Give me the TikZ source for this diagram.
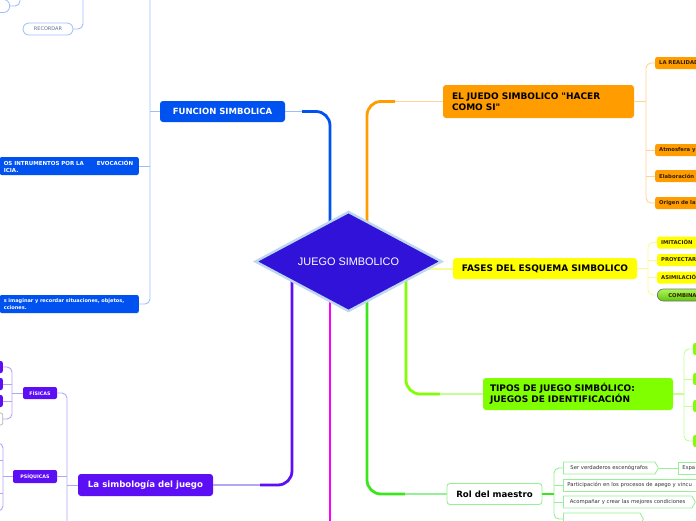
\documentclass[tikz,border=0pt]{standalone}
\usepackage{fontspec}
\setmainfont{DejaVu Sans}[Ligatures=TeXOff]
\newfontfamily\centrefont{Liberation Sans}
\usetikzlibrary{shapes.geometric,shapes.symbols}

\definecolor{centreblue}{RGB}{48,18,216}
\definecolor{centreedge}{RGB}{190,215,240}
\definecolor{funcblue}{RGB}{0,82,240}
\definecolor{funcline}{RGB}{160,188,250}
\definecolor{recgray}{RGB}{95,110,140}
\definecolor{simbpurple}{RGB}{92,14,245}
\definecolor{simbline}{RGB}{180,165,245}
\definecolor{hacerorange}{RGB}{255,156,0}
\definecolor{hacerline}{RGB}{255,210,150}
\definecolor{fasesyellow}{RGB}{255,255,0}
\definecolor{fasesline}{RGB}{250,250,150}
\definecolor{tiposgreen}{RGB}{128,255,0}
\definecolor{tiposline}{RGB}{195,255,150}
\definecolor{rolgreen}{RGB}{60,230,30}
\definecolor{rolline}{RGB}{150,240,150}
\definecolor{magentaline}{RGB}{255,0,255}
\definecolor{combinatop}{RGB}{175,245,90}
\definecolor{combinabottom}{RGB}{95,200,10}
\definecolor{leafink}{RGB}{50,30,0}

\tikzset{
  trunk/.style={line width=2.8pt, draw=#1, rounded corners=14pt},
  bridge/.style={line width=1.4pt, draw=#1},
  twig/.style={line width=0.9pt, draw=#1, rounded corners=5pt},
  topic/.style={fill=#1, rounded corners=3pt, inner sep=0pt,
    font=\bfseries\fontsize{9pt}{11pt}\selectfont},
  leaf/.style={fill=#1, rounded corners=2pt, anchor=west, inner xsep=4pt, inner ysep=0pt,
    minimum height=12pt, align=left, text=leafink,
    font=\bfseries\fontsize{5.3pt}{6.5pt}\selectfont},
  tag/.style={fill=#1, rounded corners=2pt, inner sep=0pt, minimum height=12pt,
    minimum width=34pt, text=white, font=\bfseries\fontsize{4.8pt}{6pt}\selectfont},
  pill/.style={draw=#1, fill=white, rounded corners=6pt, inner sep=0pt,
    minimum width=50pt, minimum height=12pt, line width=0.8pt,
    font=\fontsize{5pt}{6pt}\selectfont},
  rolleaf/.style={draw=rolline, fill=white, line width=0.8pt, anchor=west, inner xsep=4pt,
    inner ysep=0pt, minimum height=12pt, align=left, text=black!80,
    font=\fontsize{5.3pt}{6.5pt}\selectfont},
  rolpoint/.style={signal, signal to=east, signal pointer angle=120, draw=rolline,
    fill=white, line width=0.8pt, anchor=west, inner xsep=3pt, inner ysep=0pt,
    minimum height=12pt, text=black!80, font=\fontsize{5.3pt}{6.5pt}\selectfont},
  centre/.style={diamond, fill=centreblue, draw=centreedge, line width=2.4pt,
    minimum width=187pt, minimum height=100pt, aspect=1.87, inner sep=0pt,
    text=white, font=\centrefont\fontsize{10.9pt}{12pt}\selectfont}
}

\begin{document}
\begin{tikzpicture}[x=1pt,y=-1pt]
  \useasboundingbox (0,0) rectangle (696,520);
  \fill[white] (0,0) rectangle (696,520);
  \clip (0,0) rectangle (696,520);

  % FUNCION SIMBOLICA
  \node[topic=funcblue, text=white, minimum width=125pt, minimum height=21pt,
        font=\bfseries\fontsize{8.5pt}{10pt}\selectfont] (func) at (222.5,111.5) {FUNCION SIMBOLICA};
  \node[leaf=funcblue, anchor=east, text width=131pt, minimum height=18pt, text=white,
        font=\bfseries\fontsize{5.5pt}{7pt}\selectfont] (evoc) at (139,166)
        {OS INTRUMENTOS POR LA\hspace{13pt}EVOCACIÓN\\ICIA.};
  \node[leaf=funcblue, anchor=east, text width=131pt, minimum height=18pt, text=white,
        font=\bfseries\fontsize{5pt}{7pt}\selectfont] (imag) at (139,304)
        {\mbox{s imaginar y recordar situaciones, objetos,}\\cciones.};
  \node[pill=funcline, text=recgray] (recordar) at (48,29) {RECORDAR};
  \node[pill=funcline, minimum width=30pt, minimum height=13pt, anchor=east] (funcleaf) at (10,6) {};

  \coordinate (functop) at (150,-3);
  \coordinate (recordartop) at (83,-3);
  \coordinate (leaftop) at (20,-3);
  \draw[twig=funcline] (functop) |- (imag.east);
  \draw[twig=funcline] (func.west) -- (func.west -| functop);
  \draw[twig=funcline] (evoc.east) -- (evoc.east -| functop);
  \draw[twig=funcline] (recordartop) |- (recordar.east);
  \draw[twig=funcline] (leaftop) |- (funcleaf.east);

  % La simbologia del juego
  \node[topic=simbpurple, text=white, minimum width=135pt, minimum height=22pt,
        font=\bfseries\fontsize{8.6pt}{10pt}\selectfont] (simb) at (145.5,485) {La simbología del juego};
  \node[tag=simbpurple] (fisicas) at (40,393) {FÍSICAS};
  \node[tag=simbpurple, minimum width=44pt, minimum height=13pt] (psiquicas) at (35,476.5) {PSÍQUICAS};
  \node[tag=simbpurple, minimum width=30pt, anchor=east] (fisa) at (3,367) {};
  \node[tag=simbpurple, minimum width=30pt, anchor=east] (fisb) at (3,384) {};
  \node[tag=simbpurple, minimum width=30pt, anchor=east] (fisc) at (3,401) {};
  \node[tag=white, draw=black!30, line width=0.6pt, minimum width=30pt, anchor=east] (fisd) at (3,419) {};

  \coordinate (simbtail) at (67,523);
  \draw[twig=simbline] (fisicas.east) -| (simbtail);
  \draw[twig=simbline] (psiquicas.east) -- (psiquicas.east -| simbtail);
  \draw[twig=simbline] (simb.west) -- (simb.west -| simbtail);
  \coordinate (fisknot) at (12,393);
  \draw[twig=simbline] (fisa.east) -| (fisknot) |- (fisd.east);
  \draw[twig=simbline] (fisb.east) -- (fisb.east -| fisknot);
  \draw[twig=simbline] (fisc.east) -- (fisc.east -| fisknot);
  \draw[twig=simbline] (fisicas.west) -- (fisicas.west -| fisknot);
  \coordinate (psia) at (-6,443);
  \coordinate (psib) at (-6,460);
  \coordinate (psic) at (-6,493);
  \coordinate (psid) at (-6,511);
  \coordinate (psiknot) at (3,476.5);
  \draw[twig=simbline] (psia) -| (psiknot) |- (psid);
  \draw[twig=simbline] (psib) -- (psib -| psiknot);
  \draw[twig=simbline] (psic) -- (psic -| psiknot);
  \draw[twig=simbline] (psiquicas.west) -- (psiquicas.west -| psiknot);

  % EL JUEDO SIMBOLICO "HACER COMO SI"
  \node[topic=hacerorange, minimum width=191pt, minimum height=33pt, text width=173pt,
        inner xsep=9pt, align=left] (hacer) at (538.5,101.5)
        {EL JUEDO SIMBOLICO "HACER\\COMO SI"};
  \node[leaf=hacerorange, text width=70pt] (realidad) at (655,63) {LA REALIDAD};
  \node[leaf=hacerorange, text width=70pt] (atmosfera) at (655,150) {Atmosfera y};
  \node[leaf=hacerorange, text width=70pt] (elaboracion) at (655,176) {Elaboración};
  \node[leaf=hacerorange, text width=70pt] (origen) at (655,203) {Origen de la};

  \coordinate (hacerknot) at (646,101.5);
  \draw[twig=hacerline] (realidad.west) -| (hacerknot) |- (origen.west);
  \draw[twig=hacerline] (atmosfera.west) -- (atmosfera.west -| hacerknot);
  \draw[twig=hacerline] (elaboracion.west) -- (elaboracion.west -| hacerknot);
  \draw[bridge=hacerline] (hacer.east) -- (hacerknot);

  % FASES DEL ESQUEMA SIMBOLICO
  \node[topic=fasesyellow, minimum width=184pt, minimum height=21pt] (fases) at (545,268.5) {FASES DEL ESQUEMA SIMBOLICO};
  \node[leaf=fasesyellow, text width=60pt] (imitacion) at (657,242.5) {IMITACIÓN};
  \node[leaf=fasesyellow, text width=60pt] (proyectar) at (657,260) {PROYECTAR};
  \node[leaf=fasesyellow, text width=60pt] (asimilacion) at (657,277.5) {ASIMILACIÓN};
  \node[leaf=white, draw=black!55, line width=0.7pt, rounded corners=6pt, inner xsep=11pt,
        top color=combinatop, bottom color=combinabottom, text width=60pt] (combina) at (657,295) {COMBINACIÓN};

  \coordinate (fasesknot) at (648,268.5);
  \draw[twig=fasesline] (imitacion.west) -| (fasesknot) |- (combina.west);
  \draw[twig=fasesline] (proyectar.west) -- (proyectar.west -| fasesknot);
  \draw[twig=fasesline] (asimilacion.west) -- (asimilacion.west -| fasesknot);
  \draw[bridge=fasesline] (fases.east) -- (fasesknot);

  % TIPOS DE JUEGO SIMBOLICO
  \node[topic=tiposgreen, minimum width=190pt, minimum height=32pt, text width=176pt,
        inner xsep=7pt, align=left] (tipos) at (578,394) {TIPOS DE JUEGO SIMBÓLICO:\\JUEGOS DE IDENTIFICACIÓN};
  \node[leaf=tiposgreen, text width=30pt] (tiposa) at (693,349) {};
  \node[leaf=tiposgreen, text width=30pt] (tiposb) at (693,379) {};
  \node[leaf=tiposgreen, text width=30pt] (tiposc) at (693,406) {};
  \node[leaf=tiposgreen, text width=30pt] (tiposd) at (693,441) {};

  \coordinate (tiposknot) at (684,394);
  \draw[twig=tiposline] (tiposa.west) -| (tiposknot) |- (tiposd.west);
  \draw[twig=tiposline] (tiposb.west) -- (tiposb.west -| tiposknot);
  \draw[twig=tiposline] (tiposc.west) -- (tiposc.west -| tiposknot);
  \draw[bridge=tiposline] (tipos.east) -- (tiposknot);

  % Rol del maestro
  \node[topic=white, draw=rolline, line width=0.9pt, minimum width=95pt, minimum height=21pt,
        font=\bfseries\fontsize{8.6pt}{10pt}\selectfont] (rol) at (494.5,494) {Rol del maestro};
  \node[rolpoint, minimum width=95pt] (ser) at (563,468) {Ser verdaderos escenógrafos};
  \node[rolleaf, text width=40pt] (espa) at (678,468) {Espa};
  \node[rolleaf, text width=160pt] (partic) at (563,485) {Participación en los procesos de apego y vincu};
  \node[rolpoint, minimum width=132pt] (acomp) at (563,502) {Acompañar y crear las mejores condiciones};
  \node[rolpoint, minimum width=80pt] (ayuda) at (563,519) {};

  \coordinate (rolknot) at (554,494);
  \draw[twig=rolline] (ser.west) -| (rolknot) |- (ayuda.west);
  \draw[twig=rolline] (partic.west) -- (partic.west -| rolknot);
  \draw[twig=rolline] (acomp.west) -- (acomp.west -| rolknot);
  \draw[twig=rolline] (ser.east) -- (espa.west);
  \draw[bridge=rolgreen] (rol.east) -- (rolknot);

  % trunks from the centre
  \coordinate (funcroot) at (330,262);
  \coordinate (funcbend) at (302,111.5);
  \coordinate (hacerroot) at (367,262);
  \coordinate (hacerbend) at (395,101.5);
  \coordinate (simbroot) at (292,262);
  \coordinate (simbbend) at (260,485);
  \coordinate (tiposroot) at (406,262);
  \coordinate (tiposbend) at (440,394);
  \coordinate (rolroot) at (367,262);
  \coordinate (rolbend) at (405,494);
  \coordinate (fasesroot) at (420,268.5);
  \coordinate (magentaroot) at (330,262);
  \coordinate (magentatail) at (330,523);

  \draw[trunk=funcblue] (funcroot) |- (funcbend);
  \draw[bridge=funcline] (funcbend) -- (func.east);
  \draw[trunk=hacerorange] (hacerroot) |- (hacerbend);
  \draw[bridge=hacerline] (hacerbend) -- (hacer.west);
  \draw[trunk=simbpurple] (simbroot) |- (simbbend);
  \draw[bridge=simbline] (simbbend) -- (simb.east);
  \draw[trunk=tiposgreen] (tiposroot) |- (tiposbend);
  \draw[bridge=tiposline] (tiposbend) -- (tipos.west);
  \draw[trunk=rolgreen] (rolroot) |- (rolbend);
  \draw[bridge=rolline] (rolbend) -- (rol.west);
  \draw[bridge=fasesline, line width=2pt] (fasesroot) -- (fases.west);
  \draw[trunk=magentaline] (magentaroot) -- (magentatail);

  % centre
  \node[centre] (centre) at (348.5,261.5) {JUEGO SIMBOLICO};
\end{tikzpicture}
\end{document}
